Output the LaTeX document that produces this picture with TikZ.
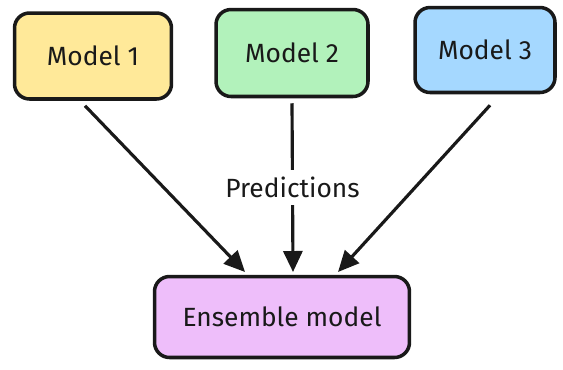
\documentclass[tikz,border=0pt]{standalone}
\usepackage{fontspec}
\setmainfont{Fira Sans}
\usetikzlibrary{positioning}
\usetikzlibrary{arrows.meta}
\definecolor{modelyellow}{HTML}{FFE999}
\definecolor{modelgreen}{HTML}{B2F2BB}
\definecolor{modelblue}{HTML}{A5D8FF}
\definecolor{ensemblepink}{HTML}{EEBEFA}
\tikzset{
    modelbox/.style={
        draw=black!90,
        line width=2pt,
        rounded corners=0.3cm,
        font=\fontsize{15}{18}\selectfont,
        text=black!90},
    flow/.style={
        draw=black!90,
        line width=1.8pt,
        -{Triangle[length=0.42cm,width=0.38cm]}}}

\begin{document}
\begin{tikzpicture}[x=0.02cm,y=-0.02cm]
        \useasboundingbox (0,0) rectangle (563,369);
        \node[modelbox, fill=modelyellow, minimum width=3.14cm, minimum height=1.72cm] (m1) at (93,56) {Model 1};
        \node[modelbox, fill=modelgreen, minimum width=3.04cm, minimum height=1.74cm] (m2) at (292,53) {Model 2};
        \node[modelbox, fill=modelblue, minimum width=2.8cm, minimum height=1.7cm] (m3) at (485,50) {Model 3};
        \node[modelbox, fill=ensemblepink, minimum width=5.1cm, minimum height=1.62cm] (ens) at (282,317) {Ensemble model};

        \coordinate (e1) at (245,272);
        \coordinate (e2) at (293,272);
        \coordinate (e3) at (338,272);

        \draw[flow] ([xshift=-0.16cm,yshift=-0.1cm]m1.south) -- (e1);
        \draw[flow] ([yshift=-0.1cm]m2.south) -- node[fill=white, font=\fontsize{15}{18}\selectfont, text=black!90, inner sep=4pt] (pred) {Predictions} (e2);
        \draw[flow] ([xshift=0.1cm,yshift=-0.22cm]m3.south) -- (e3);
    \end{tikzpicture}
\end{document}
